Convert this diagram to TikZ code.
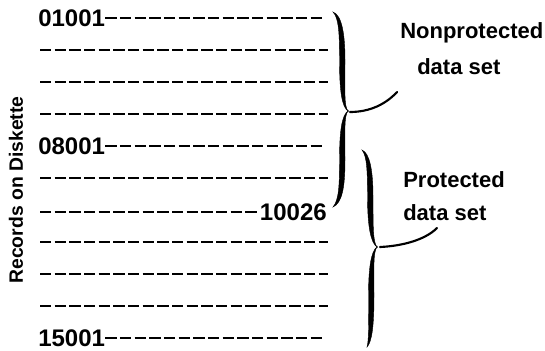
\documentclass[tikz,border=0pt]{standalone}
\usepackage{fontspec}
\setmainfont{Liberation Sans}
\begin{document}
\begin{tikzpicture}[x=0.75pt,y=-0.75pt,
  rowline/.style={line width=1pt,dash pattern=on 8.5pt off 2.5pt},
  numlbl/.style={font=\fontsize{18}{20}\selectfont\bfseries,inner sep=0pt},
  setlbl/.style={font=\fontsize{16.5}{19}\selectfont\bfseries,inner sep=0pt,anchor=west},
  bracefill/.style={fill=black,draw=black,line width=0.3pt},
  leader/.style={line width=1.6pt,line cap=round}]
\useasboundingbox (0,0) rectangle (545,350);
% rotated axis label
\node[rotate=90,inner sep=0pt,font=\fontsize{14.5}{18}\selectfont\bfseries] (axis) at (16,190) {Records on Diskette};
% labelled rows
\node[numlbl,anchor=west] (r0) at (38,18) {01001};
\node[numlbl,anchor=west] (r4) at (38,146) {08001};
\node[numlbl,anchor=east] (r6) at (327,212) {10026};
\node[numlbl,anchor=west] (r10) at (38,338) {15001};
\coordinate (e0) at (322,18);
\coordinate (e4) at (322,146);
\coordinate (s6) at (40,212);
\coordinate (e10) at (322,338);
\draw[rowline] (r0.east) -- (e0);
\draw[rowline] (r4.east) -- (e4);
\draw[rowline] (s6) -- (r6.west);
\draw[rowline] (r10.east) -- (e10);
% plain rows
\foreach \k in {1,2,3,5,7,8,9}{
  \coordinate (a\k) at (40,18+32*\k);
  \coordinate (b\k) at (328,18+32*\k);
  \draw[rowline] (a\k) -- (b\k);
}
% brace 1 (Nonprotected)
\coordinate (T1) at (333,12);
\coordinate (P1) at (348,111);
\coordinate (B1) at (333,207);
\fill[bracefill] (T1) .. controls (342,15) and (345,35) .. (345,60)
  .. controls (345,92) and (344,106) .. (P1)
  .. controls (342,107) and (339.5,92) .. (339.5,60)
  .. controls (339.5,35) and (339,18) .. (T1) -- cycle;
\fill[bracefill] (P1) .. controls (344,116) and (345,130) .. (345,160)
  .. controls (345,188) and (342,203) .. (B1)
  .. controls (339,200) and (339.5,185) .. (339.5,160)
  .. controls (339.5,130) and (342,115) .. (P1) -- cycle;
% brace 2 (Protected)
\coordinate (T2) at (362,150);
\coordinate (P2) at (377,247);
\coordinate (B2) at (367,347);
\fill[bracefill] (T2) .. controls (370,153) and (373,172) .. (373,196)
  .. controls (373,228) and (373,242) .. (P2)
  .. controls (371,243) and (367.5,228) .. (367.5,196)
  .. controls (367.5,172) and (367,156) .. (T2) -- cycle;
\fill[bracefill] (P2) .. controls (373,252) and (374,268) .. (374,296)
  .. controls (374,325) and (372,342) .. (B2)
  .. controls (369,340) and (368.5,325) .. (368.5,296)
  .. controls (368.5,268) and (371,251) .. (P2) -- cycle;
% leaders and labels
\node[setlbl] (np1) at (400,33) {Nonprotected};
\node[setlbl] (np2) at (417,67) {data set};
\node[setlbl] (pr1) at (403,180) {Protected};
\node[setlbl] (pr2) at (403,213) {data set};
\coordinate (L1) at (397,92);
\coordinate (L2) at (437,228);
\draw[leader] (P1) ++(2,1) coordinate (P1s) .. controls (370,112) and (386,104) .. (L1);
\draw[leader] (P2) ++(3,0) coordinate (P2s) .. controls (402,246) and (425,240) .. (L2);
\end{tikzpicture}
\end{document}
